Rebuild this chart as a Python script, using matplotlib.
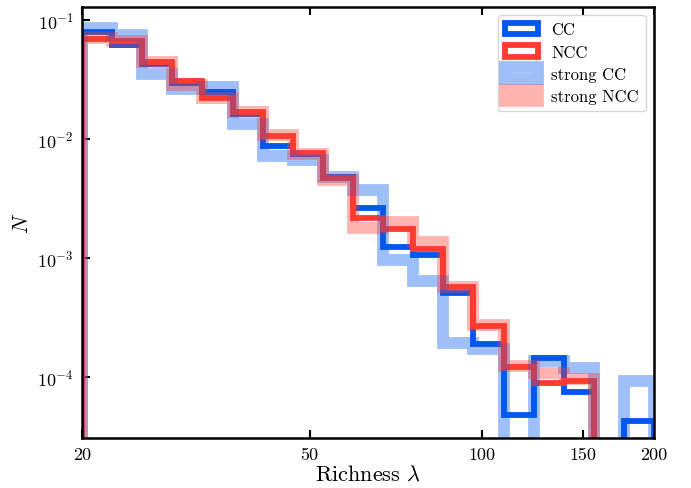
import numpy as np
import matplotlib
matplotlib.use("Agg")
import matplotlib.pyplot as plt

plt.rcParams['font.family'] = 'serif'
plt.rcParams['font.serif'] = ['cmr10', 'DejaVu Serif']
plt.rcParams['mathtext.fontset'] = 'cm'
plt.rcParams['axes.unicode_minus'] = False
plt.rcParams['axes.formatter.use_mathtext'] = True

# log bins in richness, 20 -> 200
edges = np.logspace(np.log10(20), np.log10(200), 20)

cc = [0.0793, 0.0622, 0.0427, 0.0293, 0.0248, 0.0162, 0.00873, 0.00748, 0.00480, 0.00263,
      0.00123, 0.00106, 0.000508, 0.000189, 4.8e-5, 1.45e-4, 7.5e-5, 0.0, 4.3e-5]
ncc = [0.0699, 0.0660, 0.0448, 0.0307, 0.0223, 0.0169, 0.0107, 0.00763, 0.00470, 0.00217,
       0.00175, 0.00120, 0.000571, 0.000268, 1.21e-4, 8.9e-5, 9.2e-5, 0.0, 0.0]
strong_cc = [0.0865, 0.0748, 0.0352, 0.0263, 0.0271, 0.0134, 0.00720, 0.00666, 0.00484, 0.00373,
             0.000971, 0.000641, 0.000193, 0.000172, 0.0, 1.36e-4, 1.19e-4, 0.0, 9.2e-5]
strong_ncc = [0.0706, 0.0666, 0.0444, 0.0284, 0.0221, 0.0169, 0.0108, 0.00748, 0.00452, 0.00179,
              0.00201, 0.00136, 0.000571, 0.000274, 1.24e-4, 1.08e-4, 9.6e-5, 0.0, 0.0]

blue = '#0057ee'
red = '#ff3b30'

fig = plt.figure(figsize=(6.91, 4.89), dpi=100)
ax = fig.add_axes([0.1187, 0.1022, 0.8278, 0.8814])

centers = edges[:-1]
ax.hist(centers, bins=edges, weights=cc, histtype='step', color=blue, lw=4.2, label='CC')
ax.hist(centers, bins=edges, weights=ncc, histtype='step', color=red, lw=4.2, label='NCC')
ax.hist(centers, bins=edges, weights=strong_cc, histtype='step', color=blue, lw=8.5, alpha=0.38,
        label='strong CC')
ax.hist(centers, bins=edges, weights=strong_ncc, histtype='step', color=red, lw=8.5, alpha=0.38,
        label='strong NCC')

ax.set_xscale('log')
ax.set_yscale('log')
ax.set_xlim(20, 200)
ax.set_ylim(3.07e-5, 0.1286)

ax.set_xticks([20, 50, 100, 150, 200])
ax.set_xticklabels(['20', '50', '100', '150', '200'])
ax.set_yticks([1e-4, 1e-3, 1e-2, 1e-1])
ax.minorticks_off()
ax.tick_params(which='both', direction='in', top=True, right=False, length=6, width=1.5,
               labelsize=13, pad=6)
for s in ax.spines.values():
    s.set_linewidth(1.8)

ax.set_xlabel(r'Richness $\lambda$', fontsize=16, labelpad=2)
ax.set_ylabel(r'$N$', fontsize=15.5, labelpad=4)

ax.legend(loc='upper right', fontsize=12, handleheight=0.7, labelspacing=0.42)

fig.savefig('out.png', dpi=100)
